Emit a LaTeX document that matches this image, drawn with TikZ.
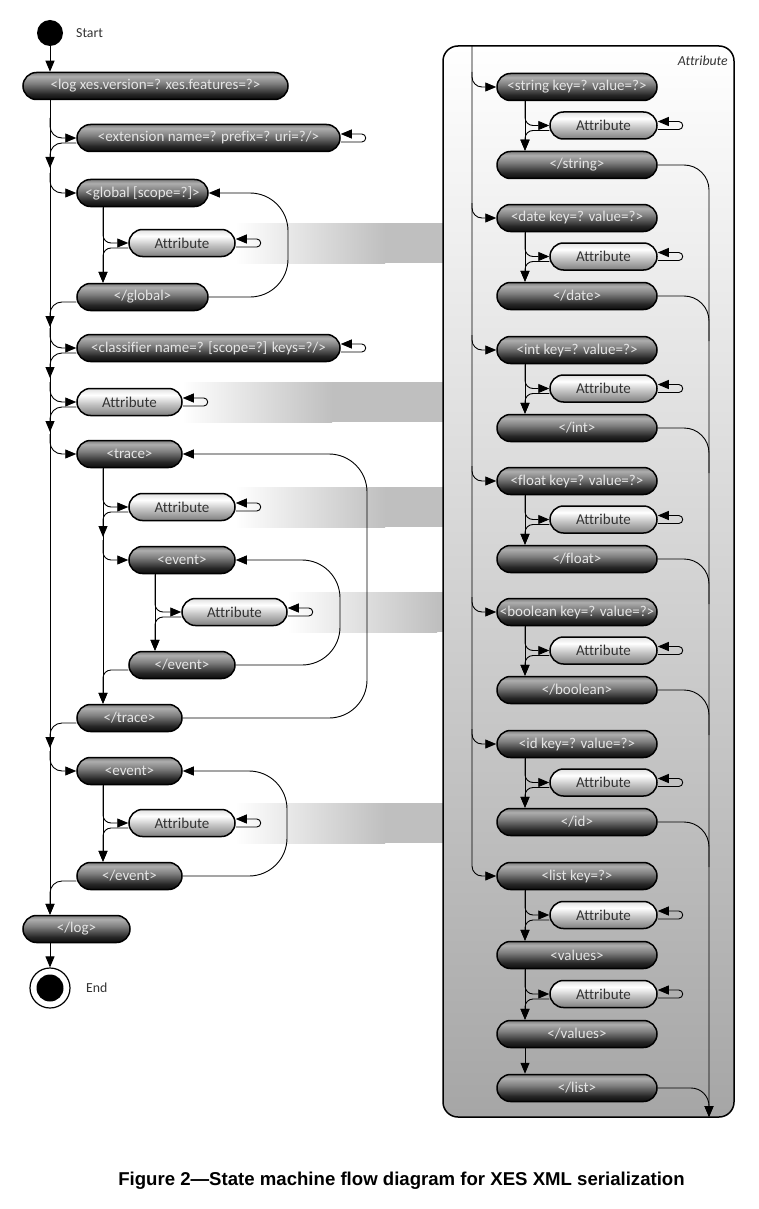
\documentclass[tikz,border=0pt]{standalone}
\usepackage{fontspec}
\setmainfont{Carlito}[Ligatures=CommonOff]
\newfontfamily\capfont{Liberation Sans}
\usetikzlibrary{arrows.meta,calc}
\pgfdeclareverticalshading{darkpill}{100bp}{color(0bp)=(black!95); color(25bp)=(black!95); color(35bp)=(black!85); color(55bp)=(black!50); color(68bp)=(black!32); color(75bp)=(black!50); color(100bp)=(black!50)}
\pgfdeclareverticalshading{lightpill}{100bp}{color(0bp)=(black!50); color(25bp)=(black!50); color(45bp)=(black!25); color(63bp)=(white); color(75bp)=(black!12); color(100bp)=(black!12)}
\newcommand\xgroup[4]{%
  \node[dark, minimum width=160pt] (#1o) at (577,#2) {#3};
  \node[light, minimum width=107pt] (#1a) at (603.5,#2+38.5) {Attribute};
  \node[dark, minimum width=160pt] (#1c) at (577,#2+78) {#4};
  \draw[arr] (#1o.south -| I) -- (#1c.north -| I);
  \draw[arr, rounded corners=8pt] (#1o.south -| I) |- (#1a.west);
  \draw[arr, rounded corners=8pt] ([yshift=-5pt]#1a.west) -| (#1c.north -| I);
  \draw[arr, rounded corners=4pt] ([yshift=-4pt]#1a.east) -- ++(25,0) |- ([yshift=4pt]#1a.east);
  \draw[arr, rounded corners=10pt] ($(#1o.west -| R)+(0,-15)$) |- (#1o.west);
}
\begin{document}
\begin{tikzpicture}[x=1pt,y=-1pt,
  pill/.style={draw=black, line width=1.5pt, rounded corners=13.5pt, minimum height=27pt, inner sep=0pt, font=\fontsize{15}{17}\selectfont},
  dark/.style={pill, shade, shading=darkpill, text=white!90!black},
  light/.style={pill, shade, shading=lightpill, text=black!80},
  arr/.style={line width=0.9pt, -{Triangle[length=11pt,width=9pt]}},
  ln/.style={line width=0.9pt},
  rc/.style={rounded corners=12pt},
  selfloop/.style={arr, rounded corners=4pt},
  bigloop/.style={arr, rounded corners=38pt},
  lbl/.style={inner sep=0pt, text=black!80, font=\fontsize{13.8}{16}\selectfont}
]
\useasboundingbox (0,0) rectangle (758,1209);
\fill[white] (0,0) rectangle (758,1209);
% bands
\foreach \yy/\xx in {243/235, 402/182, 507/235, 612/287, 823/235} {
  \shade[left color=white, right color=black!25] (\xx,\yy-20) rectangle (\xx+150,\yy+20);
  \fill[black!25] (\xx+150,\yy-20) rectangle (443,\yy+20);
}
% panel
\draw[line width=1.5pt, rounded corners=15pt, top color=white, bottom color=black!35] (443,46) rectangle (734,1117);
\node[lbl, anchor=east, font=\itshape\fontsize{13.8}{16}\selectfont] (ptitle) at (728,61) {Attribute};
\coordinate (L) at (50,0);
\coordinate (G) at (103,0);
\coordinate (E) at (155,0);
\coordinate (GX) at (288,0);
\coordinate (TX) at (367,0);
\coordinate (EX) at (340,0);
\coordinate (E2X) at (287,0);
\coordinate (R) at (472,46);
\coordinate (I) at (525,0);
\coordinate (RR) at (709,1117);
% start / end
\node[circle, fill=black, minimum size=26pt, inner sep=0pt] (start) at (50,33) {};
\node[lbl, anchor=west] (startlbl) at (76,33) {Start};
% left nodes
\node[dark, minimum width=265pt] (log) at (155.5,86) {<log xes.version=? xes.features=?>};
\node[dark, minimum width=263pt] (ext) at (208.5,138) {<extension name=? prefix=? uri=?/>};
\node[dark, minimum width=131pt] (glob) at (142.5,193) {<global [scope=?]>};
\node[light, minimum width=106pt] (gattr) at (182,243) {Attribute};
\node[dark, minimum width=131pt] (gend) at (142.5,297) {</global>};
\node[dark, minimum width=263pt] (cls) at (208.5,348) {<classifier name=? [scope=?] keys=?/>};
\node[light, minimum width=105pt] (lattr) at (129.5,402) {Attribute};
\node[dark, minimum width=105pt] (trace) at (129.5,454) {<trace>};
\node[light, minimum width=106pt] (tattr) at (182,507) {Attribute};
\node[dark, minimum width=106pt] (tev) at (182,560) {<event>};
\node[light, minimum width=105pt] (eattr) at (234.5,612) {Attribute};
\node[dark, minimum width=106pt] (tevend) at (182,665) {</event>};
\node[dark, minimum width=105pt] (tend) at (129.5,718) {</trace>};
\node[dark, minimum width=105pt] (ev) at (129.5,771) {<event>};
\node[light, minimum width=106pt] (evattr) at (182,823) {Attribute};
\node[dark, minimum width=105pt] (evend) at (129.5,876) {</event>};
\node[dark, minimum width=107pt] (logend) at (76.5,929) {</log>};
\node[circle, draw=black, line width=1.2pt, fill=white, minimum size=40pt, inner sep=0pt] (fin) at (50,988) {};
\node[circle, fill=black, minimum size=27pt, inner sep=0pt] (fincore) at (50,988) {};
\node[lbl, anchor=west] (finlbl) at (86,988) {End};
% main line
\draw[arr] (start.south) -- (start.south |- log.north);
\draw[arr] (log.south -| L) -- (logend.north -| L);
\draw[arr] (logend.south -| L) -- (fin.north);
\foreach \n in {ext,glob,cls,lattr,trace,ev} {
  \draw[arr, rc] ($(\n.west -| L)+(0,-20)$) |- (\n.west);
}
\foreach \n in {ext,gend,cls,lattr,tend} {
  \draw[arr, rc] ([yshift=-5pt]\n.west) -| ($(\n.west -| L)+(0,30)$);
}
\draw[arr, rc] ([yshift=-5pt]evend.west) -| (logend.north -| L);
% self loops
\foreach \n in {ext,cls,gattr,lattr,tattr,eattr,evattr} {
  \draw[selfloop] ([yshift=-4pt]\n.east) -- ++(25,0) |- ([yshift=4pt]\n.east);
}
% global group
\draw[arr] (glob.south -| G) -- (gend.north -| G);
\draw[arr, rounded corners=8pt] (glob.south -| G) |- (gattr.west);
\draw[arr, rounded corners=8pt] ([yshift=-5pt]gattr.west) -| (gend.north -| G);
\draw[bigloop] (gend.east) -- (gend.east -| GX) -- (glob.east -| GX) -- (glob.east);
% trace group
\draw[arr] (trace.south -| G) -- (tend.north -| G);
\draw[arr, rounded corners=8pt] (trace.south -| G) |- (tattr.west);
\draw[arr, rounded corners=8pt] ([yshift=-5pt]tattr.west) -| ($(tattr.west -| G)+(0,30)$);
\draw[arr, rounded corners=8pt] ($(tev.west -| G)+(0,-20)$) |- (tev.west);
\draw[arr, rounded corners=8pt] ([yshift=-5pt]tevend.west) -| (tend.north -| G);
\draw[bigloop] (tend.east) -- (tend.east -| TX) -- (trace.east -| TX) -- (trace.east);
% inner event group
\draw[arr] (tev.south -| E) -- (tevend.north -| E);
\draw[arr, rounded corners=8pt] (tev.south -| E) |- (eattr.west);
\draw[arr, rounded corners=8pt] ([yshift=-5pt]eattr.west) -| (tevend.north -| E);
\draw[bigloop] (tevend.east) -- (tevend.east -| EX) -- (tev.east -| EX) -- (tev.east);
% outer event group
\draw[arr] (ev.south -| G) -- (evend.north -| G);
\draw[arr, rounded corners=8pt] (ev.south -| G) |- (evattr.west);
\draw[arr, rounded corners=8pt] ([yshift=-5pt]evattr.west) -| (evend.north -| G);
\draw[bigloop] (evend.east) -- (evend.east -| E2X) -- (ev.east -| E2X) -- (ev.east);
% right panel groups
\xgroup{str}{87}{<string key=? value=?>}{</string>}
\xgroup{dat}{218}{<date key=? value=?>}{</date>}
\xgroup{int}{350}{<int key=? value=?>}{</int>}
\xgroup{flt}{481}{<float key=? value=?>}{</float>}
\xgroup{boo}{612}{<boolean key=? value=?>}{</boolean>}
\xgroup{idd}{744}{<id key=? value=?>}{</id>}
% list group
\node[dark, minimum width=160pt] (lst) at (577,876) {<list key=?>};
\node[light, minimum width=107pt] (la1) at (603.5,915) {Attribute};
\node[dark, minimum width=160pt] (vals) at (577,955) {<values>};
\node[light, minimum width=107pt] (la2) at (603.5,994) {Attribute};
\node[dark, minimum width=160pt] (valend) at (577,1034) {</values>};
\node[dark, minimum width=160pt] (lstend) at (577,1088) {</list>};
\draw[arr, rounded corners=10pt] (R) |- (lst.west);
\draw[arr] (lst.south -| I) -- (vals.north -| I);
\draw[arr, rounded corners=8pt] (lst.south -| I) |- (la1.west);
\draw[arr, rounded corners=8pt] ([yshift=-5pt]la1.west) -| (vals.north -| I);
\draw[arr] (vals.south -| I) -- (valend.north -| I);
\draw[arr, rounded corners=8pt] (vals.south -| I) |- (la2.west);
\draw[arr, rounded corners=8pt] ([yshift=-5pt]la2.west) -| (valend.north -| I);
\draw[arr] (valend.south -| I) -- (lstend.north -| I);
\foreach \n in {la1,la2} {
  \draw[selfloop] ([yshift=-4pt]\n.east) -- ++(25,0) |- ([yshift=4pt]\n.east);
}
% right collector
\draw[arr, rounded corners=25pt] (strc.east) -| (RR);
\foreach \n in {datc,intc,fltc,booc,iddc} {
  \draw[ln, rounded corners=25pt] (\n.east) -| ($(\n.east -| RR)+(0,45)$);
}
\draw[arr, rounded corners=18pt] (lstend.east) -| (RR);
% caption
\node[inner sep=0pt, font=\capfont\bfseries\fontsize{18.6}{22}\selectfont] (cap) at (401.5,1181) {Figure 2—State machine flow diagram for XES XML serialization};
\end{tikzpicture}
\end{document}
